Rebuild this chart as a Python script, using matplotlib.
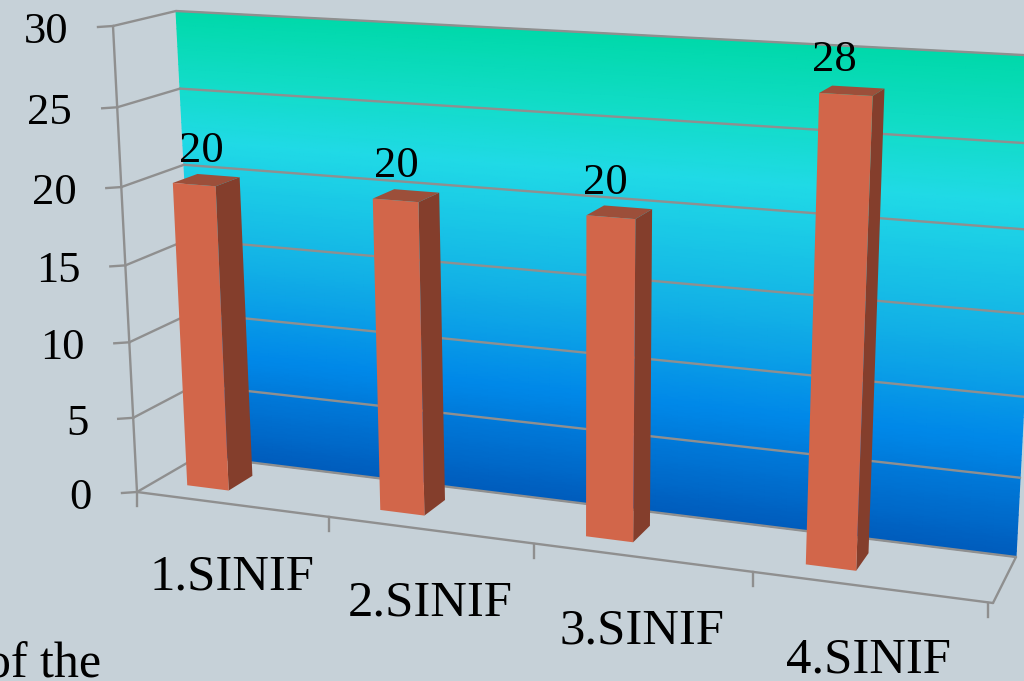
import numpy as np
import matplotlib
matplotlib.use('Agg')
import matplotlib.pyplot as plt
from matplotlib.colors import LinearSegmentedColormap
from matplotlib.patches import Polygon

categories = ['1.SINIF', '2.SINIF', '3.SINIF', '4.SINIF']
values = [20, 20, 20, 28]
y_ticks = [0, 5, 10, 15, 20, 25, 30]
y_max = 30

# box corners in pixels: bottom-left, bottom-right, top-right, top-left
front_box = np.array([[137, 492], [993, 603], [1021, 73], [113, 26]], dtype=float)
back_box = np.array([[199, 456], [1016, 557], [1042, 56], [176, 11]], dtype=float)

bar_offset = 0.17  # bar start inside a category
bar_width = 0.22
bar_z = (0.3, 0.7)  # bar depth, 0 = front edge, 1 = back wall

BG = '#c6d1d8'
GRID = '#8f8f8f'
SERIF = 'Liberation Serif'


def homography(corners):
	src = [(0, 0), (1, 0), (1, 1), (0, 1)]
	A, b = [], []
	for (u, v), (px, py) in zip(src, corners):
		A.append([u, v, 1, 0, 0, 0, -u * px, -v * px])
		A.append([0, 0, 0, u, v, 1, -u * py, -v * py])
		b += [px, py]
	h = np.linalg.solve(np.array(A), np.array(b))
	return np.append(h, 1).reshape(3, 3)


def project(x, y, z=1.0):
	# x in categories, y in chart value, z depth -> pixel
	H = homography(front_box * (1 - z) + back_box * z)
	u = np.asarray(x, dtype=float) / len(categories)
	v = np.asarray(y, dtype=float) / y_max
	w = H[2, 0] * u + H[2, 1] * v + H[2, 2]
	return (H[0, 0] * u + H[0, 1] * v + H[0, 2]) / w, (H[1, 0] * u + H[1, 1] * v + H[1, 2]) / w


def line3d(ax, p0, p1, **kw):
	a = project(*p0)
	b = project(*p1)
	ax.plot([a[0], b[0]], [a[1], b[1]], color=GRID, lw=1.7, solid_capstyle='round', **kw)


fig = plt.figure(figsize=(10.24, 6.81), dpi=100, facecolor=BG)
ax = fig.add_axes([0, 0, 1, 1])
ax.set_xlim(0, 1024)
ax.set_ylim(681, 0)
ax.axis('off')

# back wall gradient
wall_cmap = LinearSegmentedColormap.from_list('wall', [
	(0.0, '#005cbc'), (0.24, '#0088e8'), (0.45, '#12b0e6'),
	(0.72, '#20dae6'), (0.85, '#12dcc8'), (1.0, '#00d9aa')])
gx, gy = np.meshgrid(np.linspace(0, 4, 40), np.linspace(0, y_max, 80))
px, py = project(gx, gy)
ax.pcolormesh(px, py, gy / y_max, cmap=wall_cmap, shading='gouraud', zorder=1)

# grid on the walls and the outline of the box
n = len(categories)
for t in y_ticks:
	line3d(ax, (0, t, 0), (0, t, 1), zorder=2)
	line3d(ax, (0, t, 1), (n, t, 1), zorder=2)
	fx, fy = project(0, t, 0)
	ax.plot([fx - 15, fx], [fy + 1, fy], color=GRID, lw=1.7, zorder=2)
	ax.text(fx - 45, fy + 6, str(t), family=SERIF, fontsize=32, ha='right', va='center', color='black', zorder=5)
line3d(ax, (0, 0, 0), (0, y_max, 0), zorder=2)
line3d(ax, (0, 0, 0), (n, 0, 0), zorder=2)
line3d(ax, (n, 0, 0), (n, 0, 1), zorder=2)
for i in range(n + 1):
	fx, fy = project(i, 0, 0)
	fx -= i * 1.2
	ax.plot([fx, fx], [fy, fy + 14], color=GRID, lw=1.7, zorder=2)

# bars
for i, (cat, val) in enumerate(zip(categories, values)):
	x0 = i + bar_offset
	x1 = x0 + bar_width
	z0, z1 = bar_z
	side = [project(x1, 0, z0), project(x1, 0, z1), project(x1, val, z1), project(x1, val, z0)]
	top = [project(x0, val, z0), project(x1, val, z0), project(x1, val, z1), project(x0, val, z1)]
	front = [project(x0, 0, z0), project(x1, 0, z0), project(x1, val, z0), project(x0, val, z0)]
	ax.add_patch(Polygon(side, closed=True, fc='#843e2c', ec='none', zorder=3))
	ax.add_patch(Polygon(top, closed=True, fc='#9c4f3a', ec='none', zorder=3))
	ax.add_patch(Polygon(front, closed=True, fc='#d2664a', ec='none', zorder=3))

	tx, ty = project(x0 + bar_width / 2, val, z0)
	ax.annotate(str(val), (tx, ty), xytext=(7 - 6 * i, 34), textcoords='offset pixels', family=SERIF,
		fontsize=32, ha='center', va='center', color='black', zorder=5)
	lx, ly = project(i + 0.5, 0, 0)
	ax.annotate(cat, (lx, ly), xytext=(-i * 1.3, -73), textcoords='offset pixels', family=SERIF,
		fontsize=36.5, ha='center', va='center', color='black', zorder=5)

# bit of slide text cut off by the crop
ax.text(101, 677, 'of the', family=SERIF, fontsize=36, ha='right', va='baseline', color='black', zorder=5)

fig.savefig('out.png', dpi=100, facecolor=BG)
